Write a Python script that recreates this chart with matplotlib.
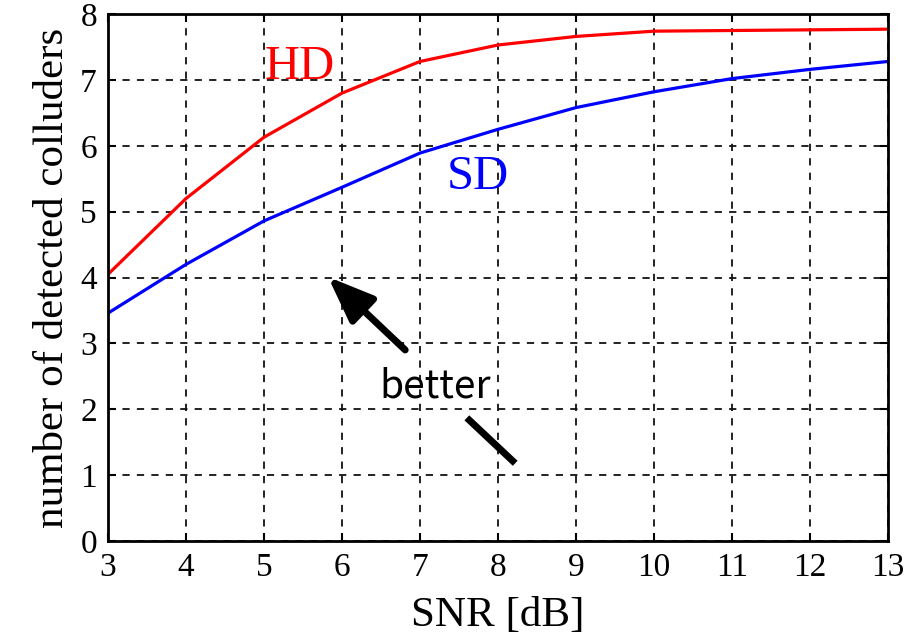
import matplotlib
matplotlib.use('Agg')
import matplotlib.pyplot as plt

# SNR values and detected colluders
snr = [3, 4, 5, 6, 7, 8, 9, 10, 11, 12, 13]
hd = [4.05, 5.2, 6.13, 6.8, 7.28, 7.53, 7.66, 7.74, 7.75, 7.76, 7.77]
sd = [3.46, 4.2, 4.86, 5.37, 5.89, 6.25, 6.58, 6.82, 7.02, 7.16, 7.28]
xticks = list(range(3, 14))
yticks = list(range(0, 9))

serif = ['Liberation Serif', 'DejaVu Serif']

fig = plt.figure(figsize=(9.08, 6.38), dpi=100)
ax = fig.add_axes([0.119, 0.152, 0.859, 0.826])

ax.plot(snr, hd, color='#ff0000', lw=2.3)
ax.plot(snr, sd, color='#0000ff', lw=2.3)

ax.text(5.46, 7.19, 'HD', color='#ff0000', fontsize=35, family=serif,
        ha='center', va='center')
ax.text(7.74, 5.52, 'SD', color='#0000ff', fontsize=35, family=serif,
        ha='center', va='center')

# "better" arrow, split by the label
ax.annotate('', xy=(5.82, 4.01), xytext=(6.81, 2.90),
            arrowprops=dict(arrowstyle='-|>,head_length=2.8,head_width=1.1',
                            color='black', lw=5, shrinkA=0, shrinkB=0))
ax.plot([7.60, 8.22], [1.87, 1.18], color='black', lw=5, solid_capstyle='butt')
ax.text(7.19, 2.34, 'better', fontsize=28, family=['Noto Sans CJK JP', 'DejaVu Sans'],
        ha='center', va='center')

ax.set_xlim(3, 13)
ax.set_ylim(0, 8)
ax.set_xticks(xticks)
ax.set_yticks(yticks)
ax.grid(True, color='#111111', linestyle=(0, (4, 4)), lw=1.3)
ax.tick_params(direction='in', top=True, right=True, length=6, width=1.5,
               labelsize=24, pad=8)
for lab in ax.get_xticklabels() + ax.get_yticklabels():
    lab.set_family(serif)
for sp in ax.spines.values():
    sp.set_linewidth(2)

ax.set_xlabel('SNR [dB]', fontsize=31, family=serif, labelpad=10)
ax.set_ylabel('number of detected colluders', fontsize=31, family=serif, labelpad=6)

fig.savefig('out.png', dpi=100)
